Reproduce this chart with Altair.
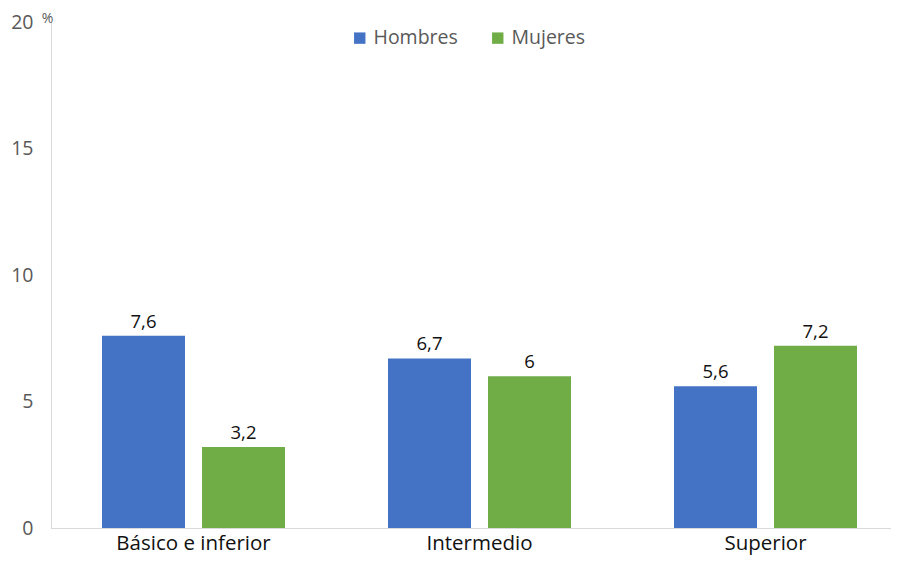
import altair as alt
import pandas as pd

categories = ["Básico e inferior", "Intermedio", "Superior"]
series = ["Hombres", "Mujeres"]
hombres = [7.6, 6.7, 5.6]
mujeres = [3.2, 6.0, 7.2]
y_ticks = [0, 5, 10, 15, 20]
colors = ["#4472C4", "#70AD47"]

rows = []
for i, c in enumerate(categories):
    rows.append({"cat": c, "sexo": series[0], "v": hombres[i]})
    rows.append({"cat": c, "sexo": series[1], "v": mujeres[i]})
df = pd.DataFrame(rows)

FONT = "Open Sans"

x = alt.X("cat:N", sort=categories,
          scale=alt.Scale(paddingInner=0, paddingOuter=0, range=[-0.5, 857.5]),
          axis=alt.Axis(title=None, labelAngle=0, ticks=False, domainColor="#d9d9d9",
                        labelColor="#111111", labelFontSize=20.5, labelPadding=5,
                        labelFont=FONT))
xo = alt.XOffset("sexo:N", sort=series,
                 scale=alt.Scale(paddingInner=0.17, paddingOuter=0.515))
y = alt.Y("v:Q", scale=alt.Scale(domain=[0, 20]),
          axis=alt.Axis(title="%", titleAngle=0, titleX=-4, titleY=-11,
                        titleAlign="center", titleBaseline="top",
                        titleFontSize=14, titleFontWeight="normal", titleColor="#595959",
                        titleFont=FONT,
                        values=y_ticks, grid=False, ticks=False, domainColor="#d9d9d9",
                        labelColor="#595959", labelFontSize=19.5, labelPadding=18,
                        labelFont=FONT))

bars = alt.Chart(df).mark_bar().encode(
    x=x, xOffset=xo, y=y,
    color=alt.Color("sexo:N", sort=series,
                    scale=alt.Scale(domain=series, range=colors),
                    legend=alt.Legend(title=None, orient="none", direction="horizontal",
                                      legendX=299, legendY=6, symbolType="square",
                                      symbolSize=130, symbolStrokeWidth=0,
                                      labelFontSize=19.5, labelColor="#595959",
                                      labelFont=FONT, columnPadding=30, labelOffset=4)),
)

text = alt.Chart(df).transform_calculate(
    lab="replace(toString(datum.v), '.', ',')"
).mark_text(baseline="alphabetic", dy=-8, fontSize=18.5, color="#111111", font=FONT).encode(
    x=x, xOffset=xo, y=y, text="lab:N"
)

chart = alt.layer(bars, text).properties(
    width=840, height=506,
    autosize=alt.AutoSizeParams(type="none"),
    padding={"left": 43, "top": 14, "right": 0, "bottom": 29},
).configure_view(stroke=None)

chart.save("out.html", embed_options={"renderer": "svg", "actions": False})
